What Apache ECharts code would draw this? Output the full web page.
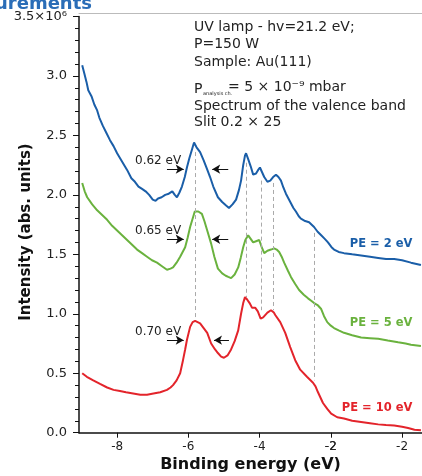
<!DOCTYPE html>
<html>
<head>
<meta charset="utf-8">
<script src="https://cdn.jsdelivr.net/npm/echarts@6/dist/echarts.min.js"></script>
<style>
  html, body { margin: 0; padding: 0; background: #fff; }
  #chart { width: 422px; height: 476px; }
</style>
</head>
<body>
<div id="chart"></div>
<script>
// binding energy (eV), intensity (x10^6)
const pe2 = [[-8.98,3.09],[-8.92,3.02],[-8.86,2.95],[-8.81,2.88],[-8.72,2.83],[-8.64,2.76],[-8.56,2.71],[-8.5,2.65],[-8.4,2.58],[-8.3,2.52],[-8.2,2.46],[-8.1,2.41],[-8.0,2.35],[-7.9,2.30],[-7.8,2.25],[-7.72,2.21],[-7.6,2.14],[-7.5,2.11],[-7.4,2.07],[-7.3,2.05],[-7.2,2.03],[-7.1,2.00],[-7.0,1.96],[-6.92,1.95],[-6.85,1.97],[-6.75,1.98],[-6.65,2.00],[-6.55,2.01],[-6.45,2.03],[-6.38,2.00],[-6.32,1.98],[-6.25,2.02],[-6.18,2.07],[-6.1,2.15],[-6.04,2.23],[-5.97,2.31],[-5.9,2.38],[-5.84,2.44],[-5.77,2.40],[-5.67,2.36],[-5.57,2.29],[-5.48,2.22],[-5.39,2.15],[-5.3,2.07],[-5.17,1.98],[-5.05,1.94],[-4.94,1.91],[-4.86,1.89],[-4.76,1.92],[-4.66,1.96],[-4.58,2.04],[-4.52,2.12],[-4.46,2.25],[-4.41,2.33],[-4.38,2.35],[-4.32,2.30],[-4.25,2.24],[-4.18,2.17],[-4.1,2.18],[-4.04,2.21],[-3.99,2.23],[-3.93,2.19],[-3.87,2.15],[-3.78,2.11],[-3.7,2.12],[-3.62,2.15],[-3.54,2.17],[-3.47,2.15],[-3.4,2.12],[-3.33,2.06],[-3.26,2.01],[-3.19,1.97],[-3.12,1.93],[-3.05,1.89],[-2.98,1.86],[-2.9,1.82],[-2.84,1.80],[-2.72,1.78],[-2.61,1.77],[-2.47,1.73],[-2.37,1.69],[-2.27,1.66],[-2.17,1.63],[-2.08,1.60],[-1.98,1.56],[-1.91,1.54],[-1.78,1.52],[-1.63,1.51],[-1.4,1.50],[-1.15,1.49],[-0.9,1.48],[-0.67,1.47],[-0.45,1.46],[-0.22,1.46],[0.0,1.45],[0.25,1.43],[0.53,1.41]];
const pe5 = [[-8.98,2.10],[-8.91,2.03],[-8.84,1.98],[-8.7,1.92],[-8.56,1.87],[-8.42,1.83],[-8.28,1.79],[-8.14,1.74],[-8.0,1.70],[-7.86,1.66],[-7.72,1.62],[-7.58,1.58],[-7.44,1.54],[-7.3,1.51],[-7.16,1.48],[-7.02,1.45],[-6.88,1.43],[-6.74,1.40],[-6.6,1.37],[-6.5,1.38],[-6.43,1.39],[-6.33,1.43],[-6.23,1.48],[-6.16,1.52],[-6.09,1.56],[-6.02,1.64],[-5.95,1.73],[-5.87,1.81],[-5.82,1.86],[-5.78,1.87],[-5.72,1.86],[-5.62,1.84],[-5.55,1.78],[-5.47,1.70],[-5.36,1.59],[-5.27,1.48],[-5.17,1.38],[-5.05,1.34],[-4.95,1.32],[-4.88,1.31],[-4.8,1.30],[-4.7,1.33],[-4.6,1.39],[-4.53,1.47],[-4.46,1.56],[-4.4,1.62],[-4.32,1.66],[-4.25,1.63],[-4.18,1.60],[-4.1,1.61],[-4.01,1.62],[-3.94,1.56],[-3.87,1.51],[-3.78,1.53],[-3.68,1.54],[-3.59,1.55],[-3.52,1.54],[-3.45,1.52],[-3.38,1.48],[-3.31,1.43],[-3.2,1.36],[-3.12,1.31],[-3.0,1.25],[-2.89,1.20],[-2.76,1.16],[-2.64,1.13],[-2.55,1.11],[-2.47,1.09],[-2.36,1.07],[-2.27,1.04],[-2.19,0.98],[-2.1,0.93],[-2.0,0.90],[-1.91,0.88],[-1.78,0.86],[-1.63,0.84],[-1.4,0.82],[-1.15,0.80],[-0.9,0.795],[-0.67,0.79],[-0.4,0.775],[-0.11,0.76],[0.1,0.75],[0.25,0.74],[0.53,0.73]];
const pe10 = [[-8.98,0.50],[-8.85,0.47],[-8.67,0.44],[-8.48,0.41],[-8.28,0.38],[-8.1,0.36],[-7.92,0.35],[-7.75,0.34],[-7.55,0.33],[-7.35,0.32],[-7.16,0.32],[-6.98,0.33],[-6.79,0.34],[-6.6,0.36],[-6.5,0.38],[-6.43,0.40],[-6.33,0.44],[-6.23,0.50],[-6.15,0.61],[-6.09,0.70],[-6.04,0.78],[-5.95,0.89],[-5.88,0.93],[-5.81,0.94],[-5.74,0.93],[-5.67,0.92],[-5.57,0.88],[-5.47,0.84],[-5.36,0.75],[-5.25,0.70],[-5.17,0.67],[-5.08,0.64],[-5.0,0.63],[-4.9,0.65],[-4.8,0.70],[-4.7,0.77],[-4.6,0.86],[-4.52,1.00],[-4.46,1.09],[-4.41,1.14],[-4.35,1.12],[-4.28,1.09],[-4.21,1.05],[-4.12,1.05],[-4.05,1.02],[-3.97,0.96],[-3.9,0.97],[-3.78,1.01],[-3.68,1.03],[-3.6,1.01],[-3.56,0.99],[-3.42,0.93],[-3.28,0.84],[-3.14,0.72],[-3.0,0.61],[-2.86,0.53],[-2.67,0.47],[-2.5,0.42],[-2.43,0.39],[-2.36,0.34],[-2.22,0.25],[-2.1,0.20],[-1.99,0.16],[-1.82,0.13],[-1.63,0.12],[-1.4,0.10],[-1.15,0.09],[-0.9,0.08],[-0.67,0.07],[-0.45,0.065],[-0.22,0.06],[0.0,0.05],[0.17,0.04],[0.35,0.025],[0.53,0.02]];

const xTicks = [-8, -6, -4, -2, 0];
const xTickLabels = ['-8', '-6', '-4', '-2', '-2'];
const yTicks = [0, 0.5, 1, 1.5, 2, 2.5, 3, 3.5];
const yTickLabels = ['0.0', '0.5', '1.0', '1.5', '2.0', '2.5', '3.0', '3.5×10⁶'];

// peak positions: [energy, top, bottom]
const peakLines = [[-5.81, 2.36, 0.95], [-4.38, 2.27, 1.14], [-3.96, 2.12, 1.03], [-3.62, 2.10, 1.03], [-2.47, 1.68, 0.44]];
// FWHM marks
const fwhmLabels = ['0.62 eV', '0.65 eV', '0.70 eV'];
const fwhmY = [2.216, 1.627, 0.778];
const fwhmRight = [[-6.60, -6.13], [-6.60, -6.13], [-6.60, -6.13]];
const fwhmLeft = [[-4.88, -5.33], [-4.88, -5.33], [-4.86, -5.28]];
const seriesNames = ['PE = 2 eV', 'PE = 5 eV', 'PE = 10 eV'];
const nameAt = [[-0.59, 1.59], [-0.59, 0.92], [-0.70, 0.21]];

const FONT = '"DejaVu Sans", sans-serif';
const BLUE = '#1a5ea8', GREEN = '#6ab23e', RED = '#e3242b';
const X_MIN = -9.07, X_MAX = 0.56;

const chart = echarts.init(document.getElementById('chart'));

function peLabel(i, color) {
  return {
    symbol: 'circle', symbolSize: 0,
    label: { show: true, position: 'inside', color: color, fontFamily: FONT, fontWeight: 'bold', fontSize: 11.5,
      formatter: seriesNames[i] },
    data: [{ coord: nameAt[i] }]
  };
}

function xLabel(v) {
  const i = xTicks.findIndex(t => Math.abs(t - v) < 1e-6);
  return i < 0 ? '' : xTickLabels[i];
}

const arrowData = [];
fwhmY.forEach((y, i) => {
  arrowData.push([{ coord: [fwhmRight[i][0], y] }, { coord: [fwhmRight[i][1], y] }]);
  arrowData.push([{ coord: [fwhmLeft[i][0], y] }, { coord: [fwhmLeft[i][1], y] }]);
});

const infoStyle = { fill: '#222', font: '14px ' + FONT, verticalAlign: 'middle' };

chart.setOption({
  animation: false,
  grid: { left: 79, right: 0, top: 16.5, bottom: 43.3, containLabel: false, outerBoundsMode: 'none' },
  graphic: [
    { type: 'text', x: -5, y: -5, style: { text: 'urements', fill: '#2a6db7', font: 'bold 18px ' + FONT, verticalAlign: 'top' } },
    { type: 'text', x: 194, y: 27, style: Object.assign({ text: 'UV lamp - hv=21.2 eV;' }, infoStyle) },
    { type: 'text', x: 194, y: 44, style: Object.assign({ text: 'P=150 W' }, infoStyle) },
    { type: 'text', x: 194, y: 62, style: Object.assign({ text: 'Sample: Au(111)' }, infoStyle) },
    { type: 'text', x: 194, y: 89, style: Object.assign({ text: 'P' }, infoStyle) },
    { type: 'text', x: 203, y: 94, style: { text: 'analysis ch.', fill: '#222', font: '5px ' + FONT, verticalAlign: 'middle' } },
    { type: 'text', x: 228, y: 87, style: Object.assign({ text: '= 5 × 10⁻⁹ mbar' }, infoStyle) },
    { type: 'text', x: 194, y: 106, style: Object.assign({ text: 'Spectrum of the valence band' }, infoStyle) },
    { type: 'text', x: 194, y: 122, style: Object.assign({ text: 'Slit 0.2 × 25' }, infoStyle) }
  ],
  xAxis: [{
    type: 'value',
    min: X_MIN,
    max: X_MAX,
    name: 'Binding energy (eV)',
    nameLocation: 'middle',
    nameGap: 24,
    nameMoveOverlap: false,
    nameTextStyle: { color: '#111', fontFamily: FONT, fontWeight: 'bold', fontSize: 16 },
    axisLine: { show: true, onZero: false, lineStyle: { color: '#111', width: 1.5 } },
    axisTick: { show: true, length: 5, customValues: xTicks, lineStyle: { color: '#111' } },
    axisLabel: {
      customValues: xTicks, margin: 8, color: '#222', fontFamily: FONT, fontSize: 12,
      hideOverlap: false, formatter: xLabel
    },
    splitLine: { show: false }
  }, {
    type: 'value', position: 'top', offset: 3.5, min: X_MIN, max: X_MAX,
    axisLine: { show: true, onZero: false, lineStyle: { color: '#bbb', width: 1 } },
    axisTick: { show: false }, axisLabel: { show: false }, splitLine: { show: false }
  }],
  yAxis: {
    type: 'value',
    min: 0,
    max: 3.5,
    interval: 0.5,
    name: 'Intensity (abs. units)',
    nameLocation: 'middle',
    nameGap: 45,
    nameMoveOverlap: false,
    nameTextStyle: { color: '#111', fontFamily: FONT, fontWeight: 'bold', fontSize: 15, padding: [0, 15, 0, 0] },
    axisLine: { show: true, onZero: false, lineStyle: { color: '#111', width: 1.5 } },
    axisTick: { show: true, length: 6, lineStyle: { color: '#111' } },
    minorTick: { show: true, splitNumber: 5, length: 4, lineStyle: { color: '#111' } },
    axisLabel: {
      margin: 12, color: '#222', fontFamily: FONT, fontSize: 13,
      formatter: v => yTickLabels[yTicks.findIndex(t => Math.abs(t - v) < 1e-6)] || ''
    },
    splitLine: { show: false }
  },
  series: [
    {
      name: seriesNames[0], type: 'line', data: pe2, showSymbol: false, symbol: 'none',
      lineStyle: { color: BLUE, width: 2 }, itemStyle: { color: BLUE },
      markPoint: peLabel(0, BLUE),
      markLine: {
        silent: true, symbol: ['none', 'arrow'], symbolSize: [7, 8],
        label: { show: false },
        lineStyle: { color: '#111', width: 1, type: 'solid' },
        data: arrowData
      }
    },
    {
      name: seriesNames[1], type: 'line', data: pe5, showSymbol: false, symbol: 'none',
      lineStyle: { color: GREEN, width: 2 }, itemStyle: { color: GREEN },
      markPoint: {
        symbol: 'circle', symbolSize: 0,
        label: { show: true, position: 'inside', color: '#222', fontFamily: FONT, fontSize: 12, formatter: p => p.name },
        data: fwhmLabels.map((t, i) => ({ name: t, coord: [-6.85, fwhmY[i] + 0.07] }))
      }
    },
    {
      name: seriesNames[1] + ' label', type: 'line', data: [], markPoint: peLabel(1, GREEN)
    },
    {
      // tick label at -2, placed under its tick like the axis labels
      name: 'tick label', type: 'line', data: [],
      markPoint: {
        symbol: 'circle', symbolSize: 0,
        label: { show: true, position: 'bottom', distance: 8, color: '#222', fontFamily: FONT, fontSize: 12,
          formatter: xTickLabels[3] },
        data: [{ coord: [xTicks[3], 0] }]
      }
    },
    {
      name: seriesNames[2], type: 'line', data: pe10, showSymbol: false, symbol: 'none', z: 1,
      lineStyle: { color: RED, width: 2 }, itemStyle: { color: RED },
      markPoint: peLabel(2, RED),
      markLine: {
        silent: true, symbol: 'none', label: { show: false },
        lineStyle: { color: '#aaa', width: 1, type: [4, 3] },
        data: peakLines.map(p => [{ coord: [p[0], p[1]] }, { coord: [p[0], p[2]] }])
      }
    }
  ]
});
</script>
</body>
</html>
